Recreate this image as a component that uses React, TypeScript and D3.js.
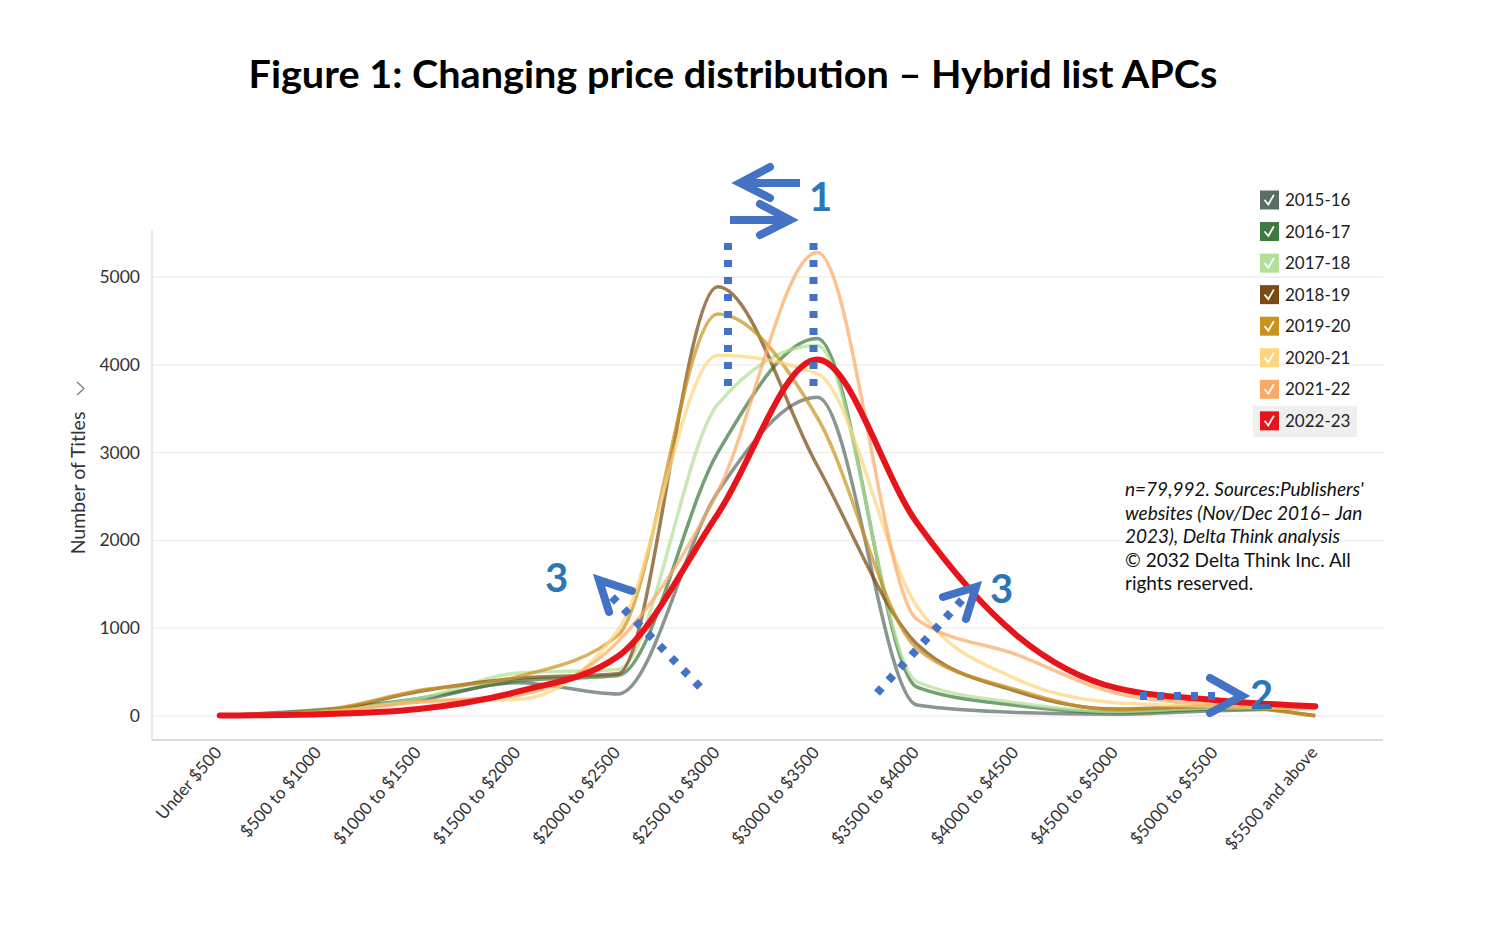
import React from "react";
import * as d3 from "d3";

const categories = [
  "Under $500", "$500 to $1000", "$1000 to $1500", "$1500 to $2000",
  "$2000 to $2500", "$2500 to $3000", "$3000 to $3500", "$3500 to $4000",
  "$4000 to $4500", "$4500 to $5000", "$5000 to $5500", "$5500 and above",
];

const seriesNames = ["2015-16", "2016-17", "2017-18", "2018-19", "2019-20", "2020-21", "2021-22", "2022-23"];
const seriesColors = ["#5c6e64", "#3c7a40", "#b3df98", "#7b4a14", "#c9941e", "#fdd57e", "#fbaa66", "#e8141c"];

const v1516 = [5, 60, 180, 380, 250, 2550, 3630, 125, 40, 20, 60, 90];
const v1617 = [5, 70, 200, 400, 460, 3000, 4300, 330, 120, 40, 80, 90];
const v1718 = [5, 50, 200, 490, 530, 3550, 4220, 390, 150, 50, 90, 90];
const v1819 = [5, 50, 280, 430, 480, 4890, 2850, 820, 280, 80, 110, 5];
const v1920 = [5, 60, 290, 450, 920, 4580, 3400, 770, 300, 70, 110, 0];
const v2021 = [5, 40, 160, 190, 980, 4110, 3900, 1250, 420, 150, 110, 80];
const v2122 = [5, 40, 160, 240, 850, 2550, 5280, 1100, 700, 260, 130, 90];
const v2223 = [5, 20, 80, 280, 680, 2300, 4060, 2200, 920, 320, 180, 110];

const seriesValues = [v1516, v1617, v1718, v1819, v1920, v2021, v2122, v2223];

const yTicks = [0, 1000, 2000, 3000, 4000, 5000];

const titleText = "Figure 1: Changing price distribution \u2013 Hybrid list APCs";
const noteItalic = ["n=79,992. Sources:Publishers'", "websites (Nov/Dec 2016\u2013 Jan", "2023), Delta Think analysis"];
const noteNormal = ["\u00a9 2032 Delta Think Inc. All", "rights reserved."];

const BLUE = "#4472C4";
const NUM = "#2E75B6";
const FONT = "Lato, 'Open Sans', sans-serif";

export default function App() {
  const left = 152, right = 1383, top = 230, bottom = 740;
  const x = d3.scalePoint<string>().domain(categories).range([left, right]).padding(0.68);
  const y = d3.scaleLinear().domain([0, 5000]).range([716, 277]);

  const line = d3.line<number>()
    .x((_, i) => x(categories[i]) as number)
    .y((d) => y(d))
    .curve(d3.curveMonotoneX);

  const dots = "7 10";

  return (
    <svg width={1500} height={944} style={{ position: "absolute", left: 0, top: 0, background: "#fff" }} fontFamily={FONT}>
      <rect x={0} y={0} width={1500} height={944} fill="#fff" />
      <text x={733} y={88} textAnchor="middle" fontSize={38} fontWeight={700} fill="#000"
        textLength={969} lengthAdjust="spacingAndGlyphs" fontFamily="Lato, sans-serif">{titleText}</text>

      {/* gridlines */}
      {yTicks.map((t) => (
        <line key={t} x1={left} x2={right} y1={y(t)} y2={y(t)} stroke="#efefef" strokeWidth={1.5} />
      ))}
      <line x1={left} x2={left} y1={top} y2={bottom} stroke="#cfcfcf" strokeWidth={1} />
      <line x1={left} x2={right} y1={bottom} y2={bottom} stroke="#dcdcdc" strokeWidth={2} />

      {yTicks.map((t) => (
        <text key={t} x={140} y={y(t) + 6} textAnchor="end" fontSize={17.5} fill="#333">{t}</text>
      ))}

      <text transform="translate(85,483) rotate(-90)" textAnchor="middle" fontSize={19.5} fill="#333">Number of Titles</text>
      <path d="M77,382 L84,388.5 L77,395" fill="none" stroke="#777" strokeWidth={1.2} />

      {categories.map((c) => (
        <text key={c} transform={`translate(${(x(c) as number) + 3},753) rotate(-49)`} textAnchor="end" fontSize={17} fill="#333">{c}</text>
      ))}

      {/* series */}
      {seriesValues.map((vals, i) => (
        i < 7 ? (
          <path key={seriesNames[i]} d={line(vals) || ""} fill="none" stroke={seriesColors[i]}
            strokeWidth={3.5} strokeOpacity={0.72} strokeLinejoin="round" />
        ) : null
      ))}
      <path d={line(seriesValues[7]) || ""} fill="none" stroke={seriesColors[7]} strokeWidth={6} strokeLinejoin="round" strokeLinecap="round" />

      {/* legend */}
      <rect x={1253} y={406} width={104} height={31} fill="#efefef" />
      {seriesNames.map((n, i) => {
        const cy = 200 + i * 31.55;
        return (
          <g key={n}>
            <rect x={1260} y={cy - 9.5} width={19} height={19} fill={seriesColors[i]} />
            <path d={`M${1265},${cy + 0.5} L${1268.3},${cy + 4.5} L${1273.5},${cy - 4.5}`} fill="none" stroke="#fff" strokeWidth={1.8} strokeLinecap="round" />
            <text x={1285} y={cy + 6} fontSize={17} fill="#222">{n}</text>
          </g>
        );
      })}

      {/* note */}
      {noteItalic.map((s, i) => (
        <text key={s} x={1125} y={496 + i * 23.6} fontSize={19} fontStyle="italic" fill="#111">{s}</text>
      ))}
      {noteNormal.map((s, i) => (
        <text key={s} x={1125} y={496 + (i + 3) * 23.6} fontSize={19} fill="#111">{s}</text>
      ))}

      {/* annotations */}
      <g stroke={BLUE} fill="none" strokeWidth={8}>
        <line x1={728} x2={728} y1={243} y2={390} strokeDasharray={dots} />
        <line x1={813.5} x2={813.5} y1={243} y2={390} strokeDasharray={dots} />
        <line x1={700} y1={687} x2={612} y2={597} strokeDasharray={dots} />
        <line x1={877} y1={693} x2={962} y2={600} strokeDasharray={dots} />
        <line x1={1140} y1={696} x2={1220} y2={696} strokeDasharray={dots} />
      </g>
      <g stroke={BLUE} fill="none" strokeWidth={8} strokeLinecap="round" strokeLinejoin="miter">
        <line x1={800} y1={183} x2={742} y2={183} strokeLinecap="butt" />
        <path d="M770,167 L740,183 L770,198" />
        <line x1={730} y1={220} x2={786} y2={220} strokeLinecap="butt" />
        <path d="M760,204 L790,220 L760,235" />
        <path d="M632,591 L599,580 L609,612" />
        <path d="M943,597 L976,587 L966,619" />
        <path d="M1210,678 L1242,696 L1210,713" />
      </g>
      <g fill={NUM} fontWeight={700} fontSize={40} fontFamily="Lato, sans-serif">
        <text x={809} y={211}>1</text>
        <text x={545} y={592}>3</text>
        <text x={990} y={603}>3</text>
        <text x={1250} y={709}>2</text>
      </g>
    </svg>
  );
}
